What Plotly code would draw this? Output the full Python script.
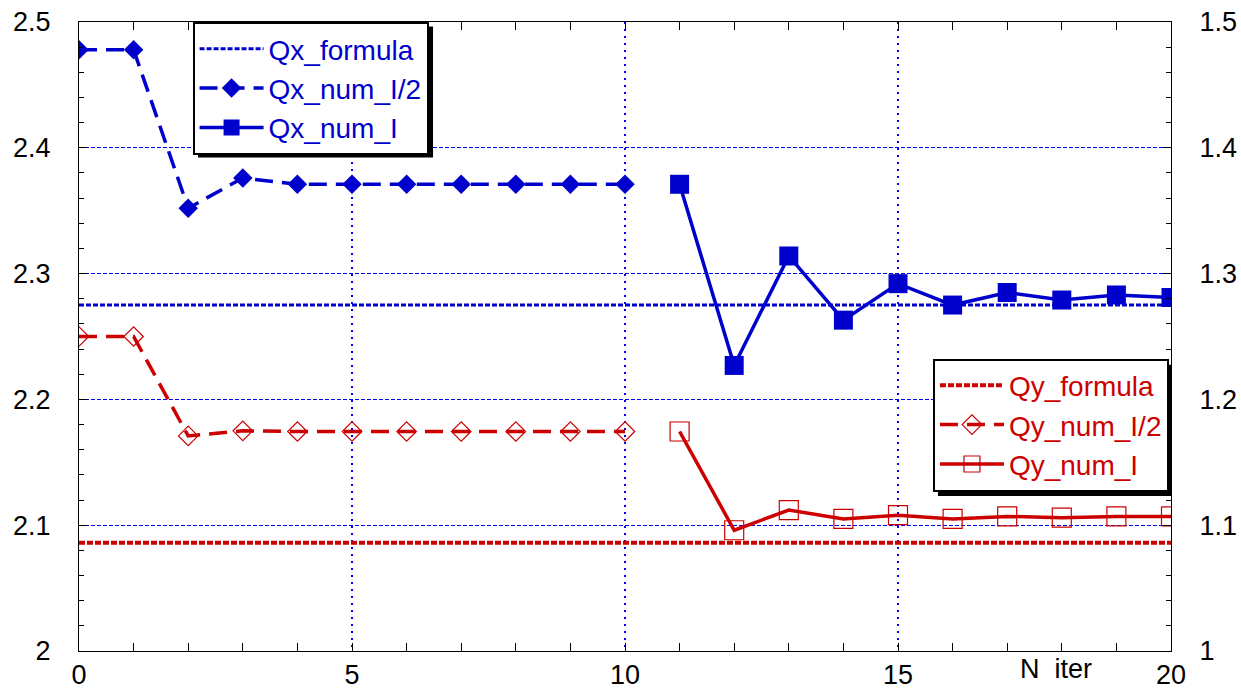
import plotly.graph_objects as go

# ---- data ----
iter_half = [0, 1, 2, 3, 4, 5, 6, 7, 8, 9, 10]
iter_full = [11, 12, 13, 14, 15, 16, 17, 18, 19, 20]
formula_x = [0, 20]

qx_formula = [2.275, 2.275]
qx_num_half = [2.478, 2.478, 2.352, 2.376, 2.371, 2.371, 2.371, 2.371, 2.371, 2.371, 2.371]
qx_num_full = [2.371, 2.227, 2.314, 2.263, 2.292, 2.275, 2.285, 2.279, 2.283, 2.281]

qy_formula = [1.086, 1.086]
qy_num_half = [1.250, 1.250, 1.171, 1.175, 1.1745, 1.1745, 1.1745, 1.1745, 1.1745, 1.1745, 1.1745]
qy_num_full = [1.1745, 1.096, 1.112, 1.105, 1.108, 1.105, 1.107, 1.106, 1.107, 1.107]

x_tickvals = [0, 5, 10, 15, 20]
x_ticktext = ["0", "5", "10", "15", "20"]
x_title = "N  iter"
x_title_pos = 17.9
yl_tickvals = [2.0, 2.1, 2.2, 2.3, 2.4, 2.5]
yl_ticktext = ["2", "2.1", "2.2", "2.3", "2.4", "2.5"]
yr_tickvals = [1.0, 1.1, 1.2, 1.3, 1.4, 1.5]
yr_ticktext = ["1", "1.1", "1.2", "1.3", "1.4", "1.5"]

BLUE = "#0000CC"
RED = "#CC0000"
GRID = "#0000FF"
FONT = "Liberation Sans, Arial, sans-serif"

fig = go.Figure()

fig.add_trace(go.Scatter(x=formula_x, y=qx_formula, mode="lines", name="Qx_formula",
                         line=dict(color=BLUE, width=3, dash="5px,2px"), legend="legend"))
fig.add_trace(go.Scatter(x=iter_half, y=qx_num_half, mode="lines+markers", name="Qx_num_I/2",
                         line=dict(color=BLUE, width=3.5, dash="18px,9px"),
                         marker=dict(symbol="diamond", size=15, color=BLUE), legend="legend"))
fig.add_trace(go.Scatter(x=iter_full, y=qx_num_full, mode="lines+markers", name="Qx_num_I",
                         line=dict(color=BLUE, width=3.5),
                         marker=dict(symbol="square", size=19, color=BLUE), legend="legend"))

fig.add_trace(go.Scatter(x=formula_x, y=qy_formula, mode="lines", name="Qy_formula", yaxis="y2",
                         line=dict(color=RED, width=4, dash="6px,2px"), legend="legend2"))
fig.add_trace(go.Scatter(x=iter_half, y=qy_num_half, mode="lines+markers", name="Qy_num_I/2", yaxis="y2",
                         line=dict(color=RED, width=3.5, dash="18px,9px"),
                         marker=dict(symbol="diamond-open", size=15, color=RED, line=dict(width=1.2)),
                         legend="legend2"))
fig.add_trace(go.Scatter(x=iter_full, y=qy_num_full, mode="lines+markers", name="Qy_num_I", yaxis="y2",
                         line=dict(color=RED, width=3.5),
                         marker=dict(symbol="square-open", size=19, color=RED, line=dict(width=1.2)),
                         legend="legend2"))

axis_common = dict(showline=True, linecolor="black", linewidth=1,
                   ticks="inside", ticklen=8, tickcolor="black",
                   tickfont=dict(family=FONT, size=27, color="black"),
                   zeroline=False, automargin=False)

# legend drop shadows (paper coordinates)
shadows = [
    dict(x0=0.109, x1=0.3242, y0=0.7844, y1=0.9928),
    dict(x0=0.7866, x1=1.0009, y0=0.2466, y1=0.455),
]
shapes = [dict(type="rect", xref="paper", yref="paper", fillcolor="black",
               line=dict(width=0), layer="above", **s) for s in shadows]

fig.update_layout(
    width=1241, height=690,
    margin=dict(l=79, r=70, t=22, b=39, autoexpand=False),
    paper_bgcolor="white", plot_bgcolor="white",
    font=dict(family=FONT, size=27),
    xaxis=dict(range=[0, 20], tickvals=x_tickvals, ticktext=x_ticktext,
               showgrid=True, gridcolor=GRID, gridwidth=1.5, griddash="2px,5px",
               mirror="allticks", ticklabelstandoff=0,
               minor=dict(dtick=1, tick0=0, ticks="inside", ticklen=5, tickcolor="black", showgrid=False),
               **axis_common),
    yaxis=dict(range=[2.0, 2.5], tickvals=yl_tickvals, ticktext=yl_ticktext,
               showgrid=True, gridcolor=GRID, gridwidth=1.3, griddash="4px,2px",
               mirror=True, ticklabelstandoff=22,
               minor=dict(dtick=0.02, tick0=2.0, ticks="inside", ticklen=5, tickcolor="black", showgrid=False),
               **axis_common),
    yaxis2=dict(range=[1.0, 1.5], tickvals=yr_tickvals, ticktext=yr_ticktext,
                overlaying="y", side="right", showgrid=False, ticklabelstandoff=22,
                minor=dict(dtick=0.02, tick0=1.0, ticks="inside", ticklen=5, tickcolor="black", showgrid=False),
                **axis_common),
    legend=dict(x=0.104, y=1.0, xanchor="left", yanchor="top",
                bgcolor="white", bordercolor="black", borderwidth=2, itemwidth=64,
                font=dict(family=FONT, size=28, color=BLUE), tracegroupgap=0),
    legend2=dict(x=0.782, y=0.465, xanchor="left", yanchor="top",
                 bgcolor="white", bordercolor="black", borderwidth=2, itemwidth=64,
                 font=dict(family=FONT, size=28, color=RED), tracegroupgap=0),
    shapes=shapes,
    annotations=[dict(x=x_title_pos, y=0, xref="x", yref="paper", text=x_title,
                      showarrow=False, xanchor="center", yanchor="top", yshift=-1,
                      font=dict(family=FONT, size=27, color="black"))],
    showlegend=True,
)

fig.write_html("out.html")
